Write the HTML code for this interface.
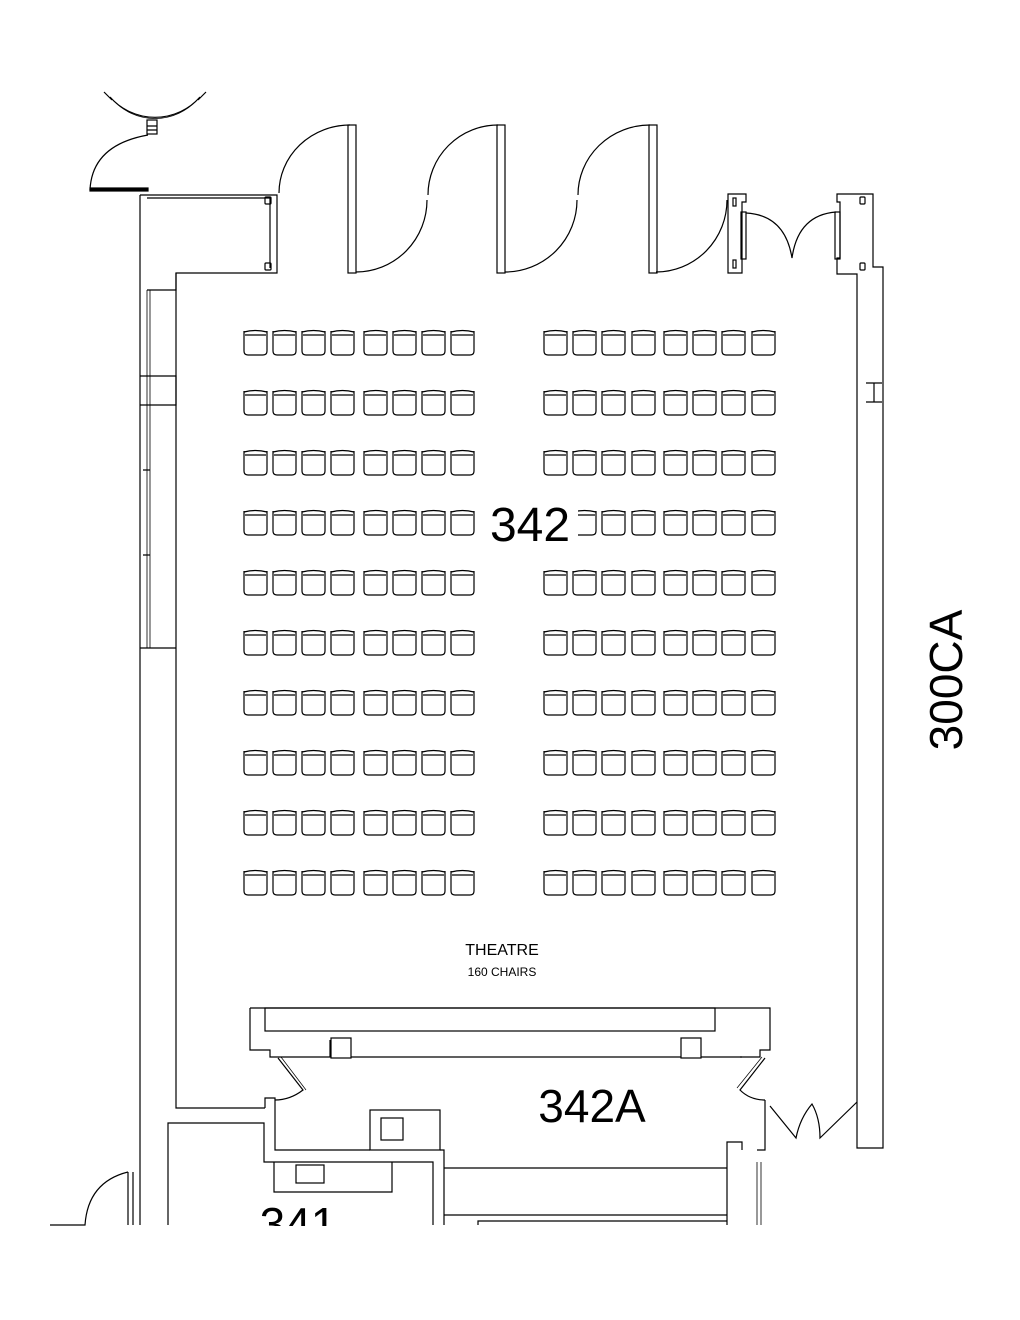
<!DOCTYPE html>
<html><head><meta charset="utf-8"><style>
html,body{margin:0;padding:0;background:#fff}
svg{display:block}
text{font-family:"Liberation Sans","DejaVu Sans",sans-serif}
</style></head><body>
<svg width="1020" height="1320" viewBox="0 0 1020 1320" xmlns="http://www.w3.org/2000/svg">
<defs>
<g id="chair" fill="none" stroke="#000" stroke-width="1.2">
<path d="M1,2 L1,22 Q1,26 5,26 L20,26 Q24,26 24,22 L24,2"/>
<path d="M1,3 Q12.5,0 24,3"/><path d="M2,6 L23,6"/>
</g>
<g id="row">
<use href="#chair" x="243"/><use href="#chair" x="272"/><use href="#chair" x="301"/><use href="#chair" x="330"/>
<use href="#chair" x="363"/><use href="#chair" x="392"/><use href="#chair" x="421"/><use href="#chair" x="450"/>
<use href="#chair" x="543"/><use href="#chair" x="572"/><use href="#chair" x="601"/><use href="#chair" x="631"/>
<use href="#chair" x="663"/><use href="#chair" x="692"/><use href="#chair" x="721"/><use href="#chair" x="751"/>
</g>
</defs>
<g fill="none" stroke="#000" stroke-width="1.2">
<path d="M110,97 A60,60 0 0 0 200,97"/><path d="M113,100 A57,57 0 0 0 197,100" stroke-width="0.8"/>
<path d="M104,92 L112,100 M206,92 L198,100"/>
<rect x="147" y="120" width="10" height="14"/><path d="M147,126 H157 M147,130 H157"/>
<path d="M90,190 Q92,145 148,135"/>
<rect x="90" y="188" width="58" height="3" fill="#000"/>
<path d="M140,195 H277 V273 H176 V290 H147 V290"/>
<path d="M147,198 H270 V268"/>
<rect x="265" y="197" width="6" height="7" rx="1"/><rect x="265" y="263" width="6" height="7" rx="1"/>
<path d="M140,195 V1225"/>
<path d="M147,290 V648 M150,290 V648" stroke-width="0.8"/>
<path d="M140,376 H176 V405 H140"/>
<path d="M176,273 V1108 H265"/>
<path d="M143,470 H150 M143,555 H150 M140,648 H176"/>
<rect x="348" y="125" width="8" height="148"/><rect x="497" y="125" width="8" height="148"/><rect x="649" y="125" width="8" height="148"/>
<path d="M350,125 A71,68 0 0 0 279,193"/><path d="M427,200 A71,72 0 0 1 356,272"/>
<path d="M498,125 A70,70 0 0 0 428,195"/><path d="M577,200 A72,72 0 0 1 505,272"/>
<path d="M650,125 A72,70 0 0 0 578,195"/><path d="M727,200 A71,72 0 0 1 656,272"/>
<path d="M728,194 H746 V202 H742 V273 H728 Z"/><rect x="741" y="212" width="5" height="47"/>
<rect x="733" y="198" width="3" height="8"/><rect x="733" y="260" width="3" height="8"/>
<path d="M746,213 Q785,215 792,258 Q798,215 836,212"/>
<path d="M837,194 H873 V267 H883 V1148 H857 V274 H837 V258 H840 V202 H837 Z"/>
<rect x="835" y="212" width="5" height="47"/>
<rect x="860" y="197" width="5" height="7" rx="1"/><rect x="860" y="263" width="5" height="7" rx="1"/>
<path d="M866,383 H882 M866,402 H882 M874,383 V402"/>
<path d="M250,1008 H770 V1050 H760 V1057 H740"/>
<path d="M250,1008 V1050 H270 V1057 H330 V1040"/>
<rect x="265" y="1008" width="450" height="23"/>
<rect x="331" y="1038" width="20" height="20"/><rect x="681" y="1038" width="20" height="20"/>
<path d="M351,1057 H681 M701,1057 H742"/>
<path d="M278,1058 L303,1090 Q290,1100 275,1100"/><path d="M281,1057 L306,1090" stroke-width="0.7"/>
<path d="M765,1058 L740,1090 Q750,1100 765,1100"/><path d="M762,1057 L737,1088" stroke-width="0.7"/>
<path d="M265,1108 V1098 H275 V1150 H370 M440,1150 H444 V1225"/>
<path d="M765,1100 V1150 H757 M742,1150 V1142 H727 V1225"/>
<rect x="370" y="1110" width="70" height="40"/><rect x="381" y="1118" width="22" height="22"/>
<path d="M168,1225 V1123 H264 V1162 H433 V1225"/>
<path d="M274,1162 V1192 H392 V1162"/><rect x="296" y="1165" width="28" height="18"/>
<path d="M444,1168 H727 M444,1215 H727 M478,1225 V1221 H727"/>
<path d="M757,1162 V1225 M761,1162 V1225" stroke-width="0.8"/>
<path d="M770,1106 L796,1138 Q800,1118 812,1104 Q820,1118 820,1138 L857,1102"/>
<path d="M50,1225 H85 Q88,1182 128,1172"/><path d="M128,1172 V1225 M133,1172 V1225"/>
</g>
<g>
<use href="#row" y="329"/><use href="#row" y="389"/><use href="#row" y="449"/><use href="#row" y="509"/>
<use href="#row" y="569"/><use href="#row" y="629"/><use href="#row" y="689"/><use href="#row" y="749"/>
<use href="#row" y="809"/><use href="#row" y="869"/>
</g>
<rect x="478" y="500" width="100" height="46" fill="#fff"/>
<text x="530" y="541" font-size="48" text-anchor="middle">342</text>
<text x="592" y="1122" font-size="46" text-anchor="middle">342A</text>
<text x="298" y="1240" font-size="46" text-anchor="middle">341</text>
<rect x="0" y="1226" width="1020" height="94" fill="#fff"/>
<text transform="translate(962,680) rotate(-90)" font-size="46" text-anchor="middle">300CA</text>
<text x="502" y="955" font-size="16" text-anchor="middle" font-family="Liberation Serif,serif">THEATRE</text>
<text x="502" y="976" font-size="12" text-anchor="middle" font-family="Liberation Serif,serif">160 CHAIRS</text>
</svg>
</body></html>
